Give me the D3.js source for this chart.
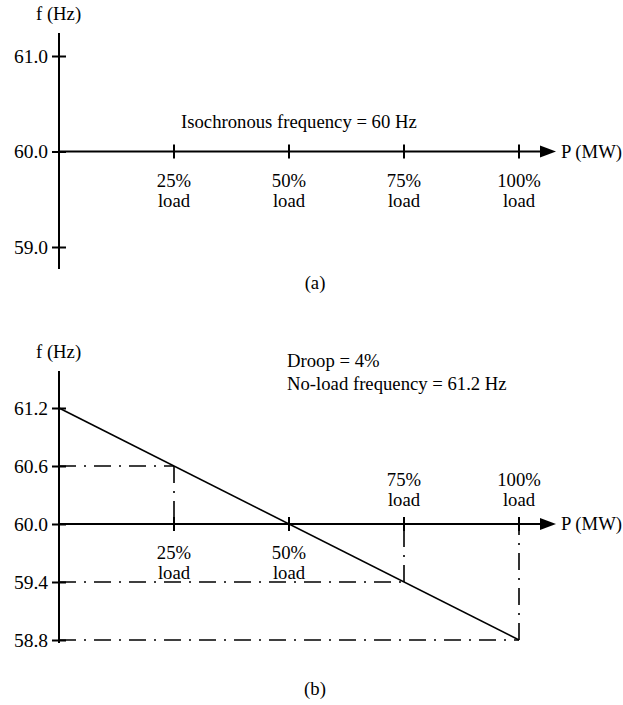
<!DOCTYPE html>
<html>
<head>
<meta charset="utf-8">
<script src="https://cdn.jsdelivr.net/npm/d3@7"></script>
<style>
  body { margin: 0; background: #fff; }
  svg { display: block; }
  text { font-family: "Liberation Serif", "Times New Roman", serif; font-size: 18.7px; fill: #000; }
</style>
</head>
<body>
<svg width="623" height="705"></svg>
<script>
// data
var loadPct = [25, 50, 75, 100];
var isoTicks = [59.0, 60.0, 61.0];
var isoFreq = 60;
var droopTicks = [58.8, 59.4, 60.0, 60.6, 61.2];
var droopLine = [[0, 61.2], [100, 58.8]];          // [load %, f]
var droopGuides = [[25, 60.6], [75, 59.4], [100, 58.8]];
var droopLabelSide = ["below", "below", "above", "above"];

var svg = d3.select("svg");
var dash = "17,8,2,8";

// shared x scale (load % -> px)
var x = d3.scaleLinear().domain([0, 100]).range([59, 519]);
var xEnd = 556;

function drawPanel(g, y, ticks, yTop, yBot, zeroF, sides) {
	// y axis line
	g.append("line")
		.attr("x1", x(0)).attr("x2", x(0))
		.attr("y1", yTop).attr("y2", yBot)
		.attr("stroke", "#000").attr("stroke-width", 2);

	var ya = d3.axisLeft(y).tickValues(ticks).tickFormat(d3.format(".1f"))
		.tickSize(7).tickPadding(4);
	var ag = g.append("g").attr("transform", "translate(" + x(0) + ",0)").call(ya);
	ag.select(".domain").remove();
	ag.selectAll(".tick line").attr("x1", -7).attr("x2", 7).attr("stroke", "#000").attr("stroke-width", 2);
	ag.selectAll(".tick text")
		.style("font-family", "Liberation Serif, Times New Roman, serif")
		.style("font-size", "19.5px").attr("fill", "#000");

	// x axis line with arrow
	var y0 = y(zeroF);
	g.append("line")
		.attr("x1", x(0)).attr("x2", xEnd - 12)
		.attr("y1", y0).attr("y2", y0)
		.attr("stroke", "#000").attr("stroke-width", 2);
	g.append("path")
		.attr("d", "M" + (xEnd - 16) + "," + (y0 - 6) + "L" + xEnd + "," + y0 + "L" + (xEnd - 16) + "," + (y0 + 6) + "Z")
		.attr("fill", "#000");
	g.append("text").attr("x", xEnd + 5).attr("y", y0 + 6).text("P (MW)");

	// x ticks
	g.selectAll(".xt").data(loadPct).enter().append("line")
		.attr("x1", function(d){ return x(d); }).attr("x2", function(d){ return x(d); })
		.attr("y1", y0 - 7).attr("y2", y0 + 7)
		.attr("stroke", "#000").attr("stroke-width", 2);

	var lab = g.selectAll(".xl").data(loadPct).enter().append("text")
		.attr("text-anchor", "middle")
		.attr("x", function(d){ return x(d); })
		.attr("y", function(d, i){ return sides[i] == "above" ? y0 - 38 : y0 + 35; });
	lab.append("tspan").attr("x", function(d){ return x(d); }).text(function(d){ return d + "%"; });
	lab.append("tspan").attr("x", function(d){ return x(d); }).attr("dy", 20).text("load");

	// f (Hz)
	g.append("text").attr("x", x(0) - 23).attr("y", yTop - 13).text("f (Hz)");
}

// ---- panel (a) ----
var ya = d3.scaleLinear().domain([59, 61]).range([247, 56]);
var ga = svg.append("g");
drawPanel(ga, ya, isoTicks, 33, 269, isoFreq, ["below", "below", "below", "below"]);
ga.append("text").attr("x", 181).attr("y", ya(isoFreq) - 24).text("Isochronous frequency = 60 Hz");
ga.append("text").attr("x", 315).attr("y", 289).attr("text-anchor", "middle").text("(a)");

// ---- panel (b) ----
var yb = d3.scaleLinear().domain([58.8, 61.2]).range([640, 408]);
var gb = svg.append("g");

// dash-dot guides
droopGuides.forEach(function(d) {
	gb.append("path")
		.attr("d", "M" + x(0) + "," + yb(d[1]) + "H" + x(d[0]))
		.attr("stroke", "#000").attr("stroke-width", 1.6).attr("fill", "none")
		.attr("stroke-dasharray", dash);
	gb.append("path")
		.attr("d", "M" + x(d[0]) + "," + yb(d[1]) + "V" + yb(60))
		.attr("stroke", "#000").attr("stroke-width", 1.6).attr("fill", "none")
		.attr("stroke-dasharray", dash);
});

drawPanel(gb, yb, droopTicks, 371, 643, 60, droopLabelSide);

gb.append("path")
	.datum(droopLine)
	.attr("d", d3.line().x(function(d){ return x(d[0]); }).y(function(d){ return yb(d[1]); }))
	.attr("stroke", "#000").attr("stroke-width", 1.6).attr("fill", "none");

gb.append("text").attr("x", 287).attr("y", 367).text("Droop = 4%");
gb.append("text").attr("x", 287).attr("y", 390).text("No-load frequency = 61.2 Hz");
gb.append("text").attr("x", 315).attr("y", 695).attr("text-anchor", "middle").text("(b)");
</script>
</body>
</html>
